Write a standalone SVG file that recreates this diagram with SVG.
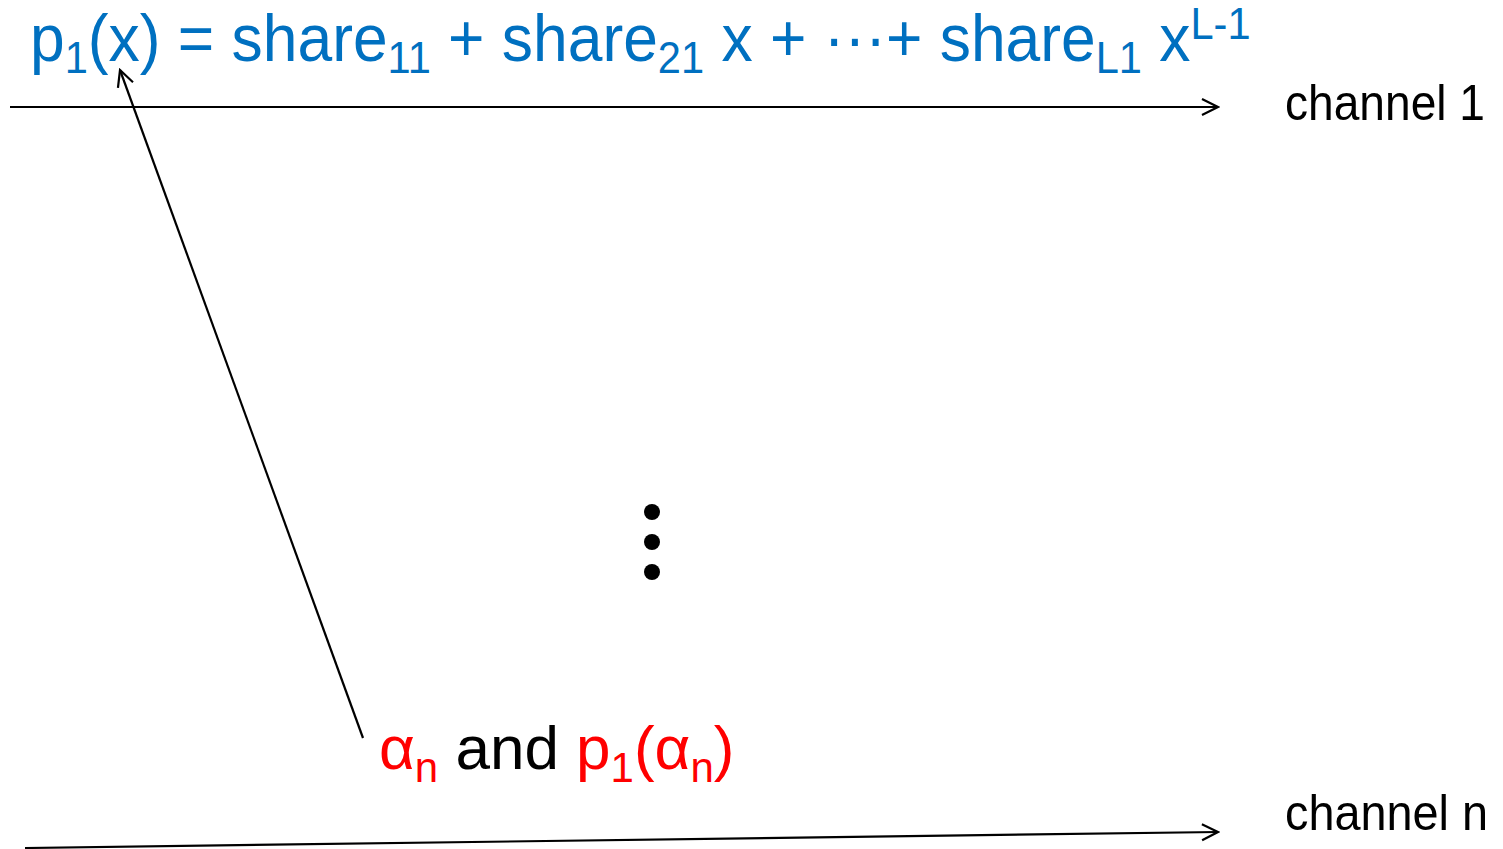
<svg xmlns="http://www.w3.org/2000/svg" width="1503" height="849" viewBox="0 0 1503 849">
<style>
text{font-family:"Liberation Sans",Arial,sans-serif}
.blue{fill:#0070C0}
.red{fill:#FF0000}
.blk{fill:#000}
.ln{stroke:#000;stroke-width:2.2;fill:none}
</style>
<defs>
<marker id="open" viewBox="0 0 20 20" refX="18" refY="10" markerWidth="20" markerHeight="20" markerUnits="userSpaceOnUse" orient="auto">
<path d="M2,2 L18,10 L2,18" fill="none" stroke="#000" stroke-width="2.2"/>
</marker>
</defs>
<rect width="1503" height="849" fill="#fff"/>
<g id="connectors">
<line class="ln" x1="10" y1="107" x2="1218" y2="107" marker-end="url(#open)"/>
<line class="ln" x1="25" y1="848" x2="1218" y2="832" marker-end="url(#open)"/>
<line class="ln" x1="363" y1="738" x2="120" y2="70" marker-end="url(#open)"/>
</g>
<g id="formula" transform="translate(30,61) scale(0.945,1)">
<text x="0" y="0" font-size="66" class="blue">p<tspan font-size="44" dy="12">1</tspan><tspan dy="-12">(x) = share</tspan><tspan font-size="44" dy="12">11</tspan><tspan dy="-12"> + share</tspan><tspan font-size="44" dy="12">21</tspan><tspan dy="-12"> x + ···+ share</tspan><tspan font-size="44" dy="12">L1</tspan><tspan dy="-12"> x</tspan><tspan font-size="44" dy="-22">L-1</tspan></text>
</g>
<g id="channel1">
<text x="1285" y="120" font-size="50" class="blk" textLength="200" lengthAdjust="spacingAndGlyphs">channel 1</text>
</g>
<g id="channeln">
<text x="1285" y="830" font-size="50" class="blk" textLength="203" lengthAdjust="spacingAndGlyphs">channel n</text>
</g>
<g id="dots">
<circle cx="652" cy="512" r="8" fill="#000"/>
<circle cx="652" cy="542" r="8" fill="#000"/>
<circle cx="652" cy="572" r="8" fill="#000"/>
</g>
<g id="label">
<text x="379" y="769" font-size="62"><tspan class="red">α</tspan><tspan class="red" font-size="42" dy="13">n</tspan><tspan class="blk" dy="-13"> and </tspan><tspan class="red">p</tspan><tspan class="red" font-size="42" dy="13">1</tspan><tspan class="red" dy="-13">(α</tspan><tspan class="red" font-size="42" dy="13">n</tspan><tspan class="red" dy="-13">)</tspan></text>
</g>
</svg>
